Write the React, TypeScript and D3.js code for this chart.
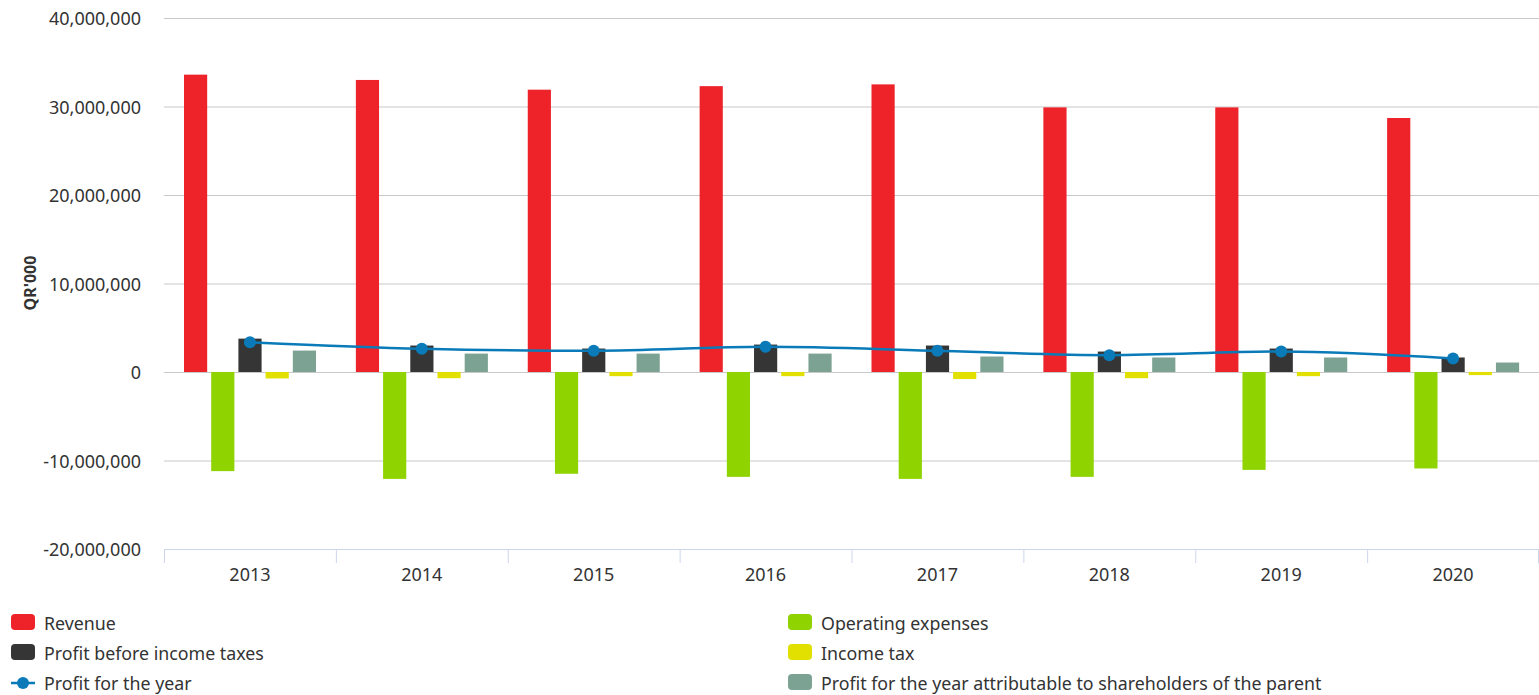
import React, { useEffect } from "react";
import * as d3 from "d3";

const years = ["2013", "2014", "2015", "2016", "2017", "2018", "2019", "2020"];
const revenue = [33.6e6, 33.0e6, 31.9e6, 32.3e6, 32.5e6, 29.9e6, 29.9e6, 28.7e6];
const operatingExpenses = [-11.2e6, -12.08e6, -11.5e6, -11.85e6, -12.08e6, -11.85e6, -11.06e6, -10.9e6];
const profitBeforeTax = [3.77e6, 2.99e6, 2.65e6, 3.1e6, 2.99e6, 2.31e6, 2.65e6, 1.64e6];
const incomeTax = [-0.73e6, -0.7e6, -0.47e6, -0.47e6, -0.8e6, -0.7e6, -0.47e6, -0.35e6];
const profitAttributable = [2.42e6, 2.08e6, 2.08e6, 2.08e6, 1.75e6, 1.64e6, 1.64e6, 1.07e6];
const profitForYear = [3.36e6, 2.62e6, 2.39e6, 2.84e6, 2.39e6, 1.9e6, 2.31e6, 1.52e6];
const yTicks = [-20e6, -10e6, 0, 10e6, 20e6, 30e6, 40e6];

const barSeries = [
  { name: "Revenue", color: "#ee2229", values: revenue },
  { name: "Operating expenses", color: "#8fd400", values: operatingExpenses },
  { name: "Profit before income taxes", color: "#353535", values: profitBeforeTax },
  { name: "Income tax", color: "#e2e000", values: incomeTax },
  { name: "Profit for the year attributable to shareholders of the parent", color: "#7ba293", values: profitAttributable },
];
const lineSeries = { name: "Profit for the year", color: "#0a7bb8", values: profitForYear };

const W = 1539;
const H = 695;
const FONT = "'Noto Sans', 'Open Sans', sans-serif";

export default function App() {
  useEffect(() => {
    document.body.style.margin = "0";
  }, []);

  const x0 = d3.scaleBand<string>().domain(years).range([164, 1539]).padding(0);
  const x1 = d3
    .scaleBand<number>()
    .domain(d3.range(barSeries.length))
    .range([20, 152])
    .paddingInner(0.148)
    .paddingOuter(0);
  const y = d3.scaleLinear().domain([-20e6, 40e6]).range([549, 18]);
  const fmt = (v: number) => d3.format(",")(v).replace("\u2212", "-");

  const line = d3
    .line<number>()
    .x((_, i) => (x0(years[i]) as number) + x0.bandwidth() / 2)
    .y((v) => y(v))
    .curve(d3.curveMonotoneX);

  const legendLeft = [
    { kind: "bar", name: barSeries[0].name, color: barSeries[0].color },
    { kind: "bar", name: barSeries[2].name, color: barSeries[2].color },
    { kind: "line", name: lineSeries.name, color: lineSeries.color },
  ];
  const legendRight = [
    { kind: "bar", name: barSeries[1].name, color: barSeries[1].color },
    { kind: "bar", name: barSeries[3].name, color: barSeries[3].color },
    { kind: "bar", name: barSeries[4].name, color: barSeries[4].color },
  ];

  const renderLegend = (items: typeof legendLeft, lx: number) =>
    items.map((it, i) => {
      const cy = 622 + i * 30;
      return (
        <g key={it.name}>
          {it.kind === "bar" ? (
            <rect x={lx} y={cy - 8} width={24} height={16} rx={4} fill={it.color} />
          ) : (
            <g>
              <line x1={lx} x2={lx + 24} y1={cy + 1} y2={cy + 1} stroke={it.color} strokeWidth={2.5} />
              <circle cx={lx + 12} cy={cy + 1} r={6} fill={it.color} />
            </g>
          )}
          <text x={lx + 33} y={cy + 8} fontSize={17.8} fill="#333" fontFamily={FONT}>
            {it.name}
          </text>
        </g>
      );
    });

  return (
    <svg width={W} height={H} style={{ position: "absolute", left: 0, top: 0, background: "#fff" }}>
      {/* grid */}
      {yTicks.map((t) => (
        <g key={t}>
          <line x1={164} x2={1539} y1={y(t) + 0.5} y2={y(t) + 0.5} stroke="#c8c8c8" strokeWidth={1} />
          <text x={141} y={y(t) + 7} textAnchor="end" fontSize={18} fill="#333" fontFamily={FONT}>
            {fmt(t)}
          </text>
        </g>
      ))}
      {/* y title */}
      <text
        transform={`translate(36, 283) rotate(-90)`}
        textAnchor="middle"
        fontSize={16}
        fontWeight="bold"
        fill="#333"
        fontFamily={FONT}
      >
        QR'000
      </text>
      {/* x axis */}
      <line x1={164} x2={1539} y1={549.5} y2={549.5} stroke="#ccd6eb" strokeWidth={1} />
      {years.map((yr) => (
        <line
          key={"t" + yr}
          x1={(x0(yr) as number) + 0.5}
          x2={(x0(yr) as number) + 0.5}
          y1={549}
          y2={563}
          stroke="#ccd6eb"
        />
      ))}
      <line x1={1538.5} x2={1538.5} y1={549} y2={563} stroke="#ccd6eb" />
      {years.map((yr) => (
        <text
          key={"l" + yr}
          x={(x0(yr) as number) + x0.bandwidth() / 2}
          y={581}
          textAnchor="middle"
          fontSize={18}
          fill="#333"
          fontFamily={FONT}
        >
          {yr}
        </text>
      ))}
      {/* bars */}
      {barSeries.map((s, si) =>
        s.values.map((v, i) => {
          const bx = (x0(years[i]) as number) + (x1(si) as number);
          const y0 = y(0);
          const yv = y(v);
          return (
            <rect
              key={s.name + i}
              x={bx}
              y={Math.min(y0, yv)}
              width={x1.bandwidth()}
              height={Math.abs(yv - y0)}
              fill={s.color}
            />
          );
        })
      )}
      {/* line */}
      <path d={line(lineSeries.values) || ""} fill="none" stroke={lineSeries.color} strokeWidth={2.5} />
      {lineSeries.values.map((v, i) => (
        <circle
          key={"m" + i}
          cx={(x0(years[i]) as number) + x0.bandwidth() / 2}
          cy={y(v)}
          r={6}
          fill={lineSeries.color}
        />
      ))}
      {/* legend */}
      {renderLegend(legendLeft, 11)}
      {renderLegend(legendRight, 788)}
    </svg>
  );
}
